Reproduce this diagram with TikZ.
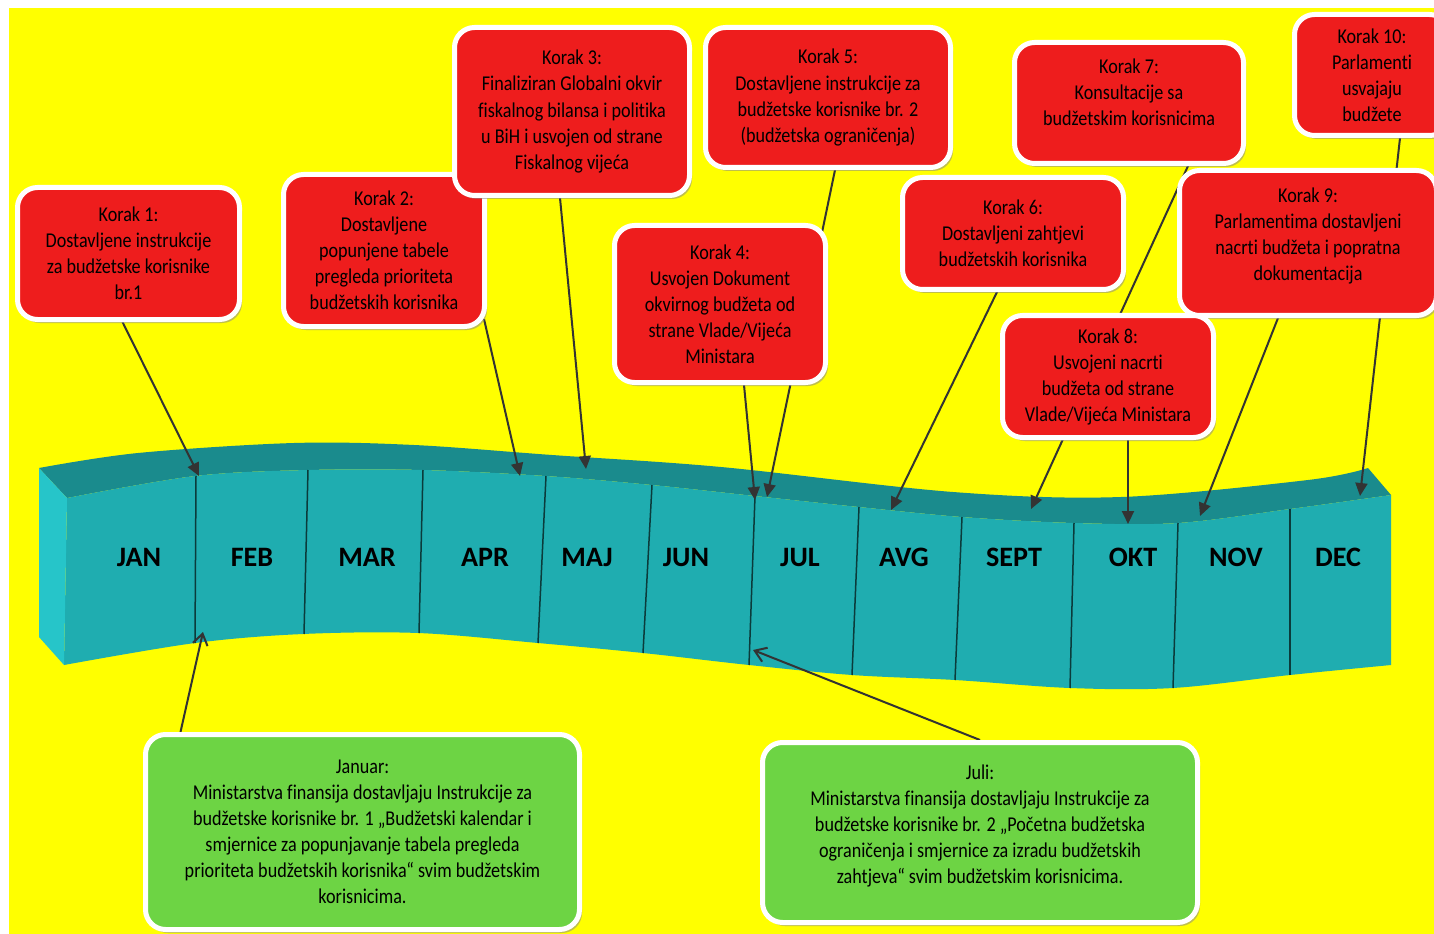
\documentclass[tikz,border=0pt]{standalone}
\usepackage{fontspec}
\setmainfont{Carlito}[FakeStretch=0.86, Ligatures={CommonOff}]
\newfontfamily\monthfont{Carlito}
\usetikzlibrary{
  arrows.meta,
  shadows,
  backgrounds,
  calc
}
\definecolor{bgYellow}{HTML}{FFFF00}
\definecolor{kRed}{HTML}{EE1D1D}
\definecolor{nGreen}{HTML}{6DD444}
\definecolor{ribTop}{HTML}{1A8B8D}
\definecolor{ribFront}{HTML}{1FADB0}
\definecolor{ribSide}{HTML}{26C5C9}
\definecolor{sepDark}{HTML}{0B3B3B}
\definecolor{arrGray}{HTML}{333333}
\tikzset{
  korak/.style={
    draw=white, line width=1mm, fill=kRed, rounded corners=4mm,
    align=center, inner sep=0pt, font=\fontsize{12}{14.8}\selectfont,
    drop shadow={shadow xshift=0.5mm, shadow yshift=-0.7mm, fill=black!45, opacity=0.55}
  },
  notebox/.style={korak, fill=nGreen},
  boxsize/.style 2 args={minimum width=#1*0.2mm, minimum height=#2*0.2mm},
  monthlabel/.style={font=\monthfont\bfseries\fontsize{16}{16}\selectfont, inner sep=0pt},
  sepline/.style={sepDark, line width=0.3mm},
  steparrow/.style={-{Triangle[length=2.6mm, width=2.4mm]}, line width=0.4mm, arrGray},
  notearrow/.style={-{Straight Barb[length=2.2mm, width=3mm]}, line width=0.4mm, arrGray}
}

\begin{document}
\begin{tikzpicture}[x=0.2mm, y=-0.2mm]
  \useasboundingbox (0,0) rectangle (1434,934);

  % koraci
  \node[korak, boxsize={222}{132}] (k1) at (128.5,253.5)
    {Korak 1:\\Dostavljene instrukcije\\za budžetske korisnike\\br.1};
  \node[korak, boxsize={201}{152}] (k2) at (384,250.5)
    {Korak 2:\\Dostavljene\\popunjene tabele\\pregleda prioriteta\\budžetskih korisnika};
  \node[korak, boxsize={235}{168}] (k3) at (572,111.5)
    {Korak 3:\\Finaliziran Globalni okvir\\fiskalnog bilansa i politika\\u BiH i usvojen od strane\\Fiskalnog vijeća};
  \node[korak, boxsize={245}{140}] (k5) at (828,97.5)
    {Korak 5:\\Dostavljene instrukcije za\\budžetske korisnike br. 2\\(budžetska ograničenja)};
  \node[korak, boxsize={211}{157}] (k4) at (720,304)
    {Korak 4:\\Usvojen Dokument\\okvirnog budžeta od\\strane Vlade/Vijeća\\Ministara};
  \node[korak, boxsize={221}{112}] (k6) at (1013,233.5)
    {Korak 6:\\Dostavljeni zahtjevi\\budžetskih korisnika};
  \node[korak, boxsize={229}{121}] (k7) at (1129,103)
    {Korak 7:\\Konsultacije sa\\budžetskim korisnicima\\[-2.3pt]};
  \node[korak, boxsize={155}{121}] (k10) at (1372,75)
    {Korak 10:\\Parlamenti\\usvajaju\\budžete};
  \node[korak, boxsize={257}{145}] (k9) at (1308,243)
    {Korak 9:\\Parlamentima dostavljeni\\nacrti budžeta i popratna\\dokumentacija\\[-4.6pt]};
  \node[korak, boxsize={211}{122}] (k8) at (1108,376.5)
    {Korak 8:\\Usvojeni nacrti\\budžeta od strane\\Vlade/Vijeća Ministara};

  % napomene
  \node[notebox, boxsize={434}{195}] (jan) at (362.5,832)
    {Januar:\\Ministarstva finansija dostavljaju Instrukcije za\\budžetske korisnike br. 1 „Budžetski kalendar i\\smjernice za popunjavanje tabela pregleda\\prioriteta budžetskih korisnika“ svim budžetskim\\korisnicima.};
  \node[notebox, boxsize={435}{180}] (jul) at (980,832.5)
    {Juli:\\Ministarstva finansija dostavljaju Instrukcije za\\budžetske korisnike br. 2 „Početna budžetska\\ograničenja i smjernice za izradu budžetskih\\zahtjeva“ svim budžetskim korisnicima.\\[-5.7pt]};

  \begin{scope}[on background layer]
    \fill[white] (0,0) rectangle (1434,934);
    \fill[bgYellow] (9,8) rectangle (1434,934);

    % traka s mjesecima
    \fill[ribTop] plot[smooth, tension=0.55] coordinates {(39,468) (138,453) (294,443) (414,445) (552,455) (721,467) (953,492) (1121,497) (1308,480) (1368,468)}
      -- plot[smooth, tension=0.55] coordinates {(1391,495) (1290,509) (1178,523) (1074,523) (962,517) (859,507) (755,496) (652,485) (546,476) (423,470) (308,470) (195,476) (67,498)}
      -- cycle;
    \fill[ribFront] plot[smooth, tension=0.55] coordinates {(67,498) (195,476) (308,470) (423,470) (546,476) (652,485) (755,496) (859,507) (962,517) (1074,523) (1178,523) (1290,509) (1391,495)}
      -- plot[smooth, tension=0.55] coordinates {(1391,665) (1290,675) (1173,688) (1070,688) (955,680) (852,675) (749,665) (643,653) (538,643) (418,633) (303,634) (195,643) (64,665)}
      -- cycle;
    \fill[ribSide] (39,468) -- (67,498) -- (64,665) -- (39,637) -- cycle;

    \foreach \xa/\ya/\xb/\yb in {196/476/195/643, 308/470/304/634, 423/470/419/633,
      546/476/538/643, 652/485/643/653, 755/496/749/665, 859/507/852/675,
      962/517/955/680, 1074/523/1070/688, 1178/523/1173/688, 1290/509/1290/675}
      \draw[sepline] (\xa,\ya) -- (\xb,\yb);

    \foreach \m/\x [count=\i] in {JAN/139, FEB/252, MAR/367, APR/485, MAJ/587, JUN/686,
      JUL/800, AVG/904, SEPT/1014, OKT/1133, NOV/1236, DEC/1338}
      \node[monthlabel] (m\i) at (\x,557) {\m};

    % tacke na traci
    \coordinate (tJanFeb) at (199,476);
    \coordinate (tApr) at (520,476);
    \coordinate (tMaj) at (586,469);
    \coordinate (tJun) at (755,500);
    \coordinate (tJul) at (767,497);
    \coordinate (tAvg) at (891,510);
    \coordinate (tSept) at (1031,509);
    \coordinate (tOkt) at (1128,524);
    \coordinate (tNov) at (1200,516);
    \coordinate (tDec) at (1360,496);
    \coordinate (bFeb) at (203,632);
    \coordinate (bJul) at (753,650);

    \draw[steparrow] ($(k1.south)+(-6,0)$) -- (tJanFeb);
    \draw[steparrow] ($(k2.south east)+(-3,-10)$) -- (tApr);
    \draw[steparrow] ($(k3.south)+(-12,0)$) -- (tMaj);
    \draw[steparrow] ($(k4.south)+(24,0)$) -- (tJun);
    \draw[steparrow] ($(k5.south)+(7,0)$) -- (tJul);
    \draw[steparrow] ($(k6.south)+(-16,0)$) -- (tAvg);
    \draw[steparrow] ($(k7.south)+(59,0)$) -- (tSept);
    \draw[steparrow] ($(k8.south)+(20,0)$) -- (tOkt);
    \draw[steparrow] ($(k9.south)+(-30,0)$) -- (tNov);
    \draw[steparrow] ($(k10.south)+(28,0)$) -- (tDec);
    \draw[notearrow] ($(jan.north)+(-182,0)$) -- (bFeb);
    \draw[notearrow] (jul.north) -- (bJul);
  \end{scope}
\end{tikzpicture}
\end{document}
